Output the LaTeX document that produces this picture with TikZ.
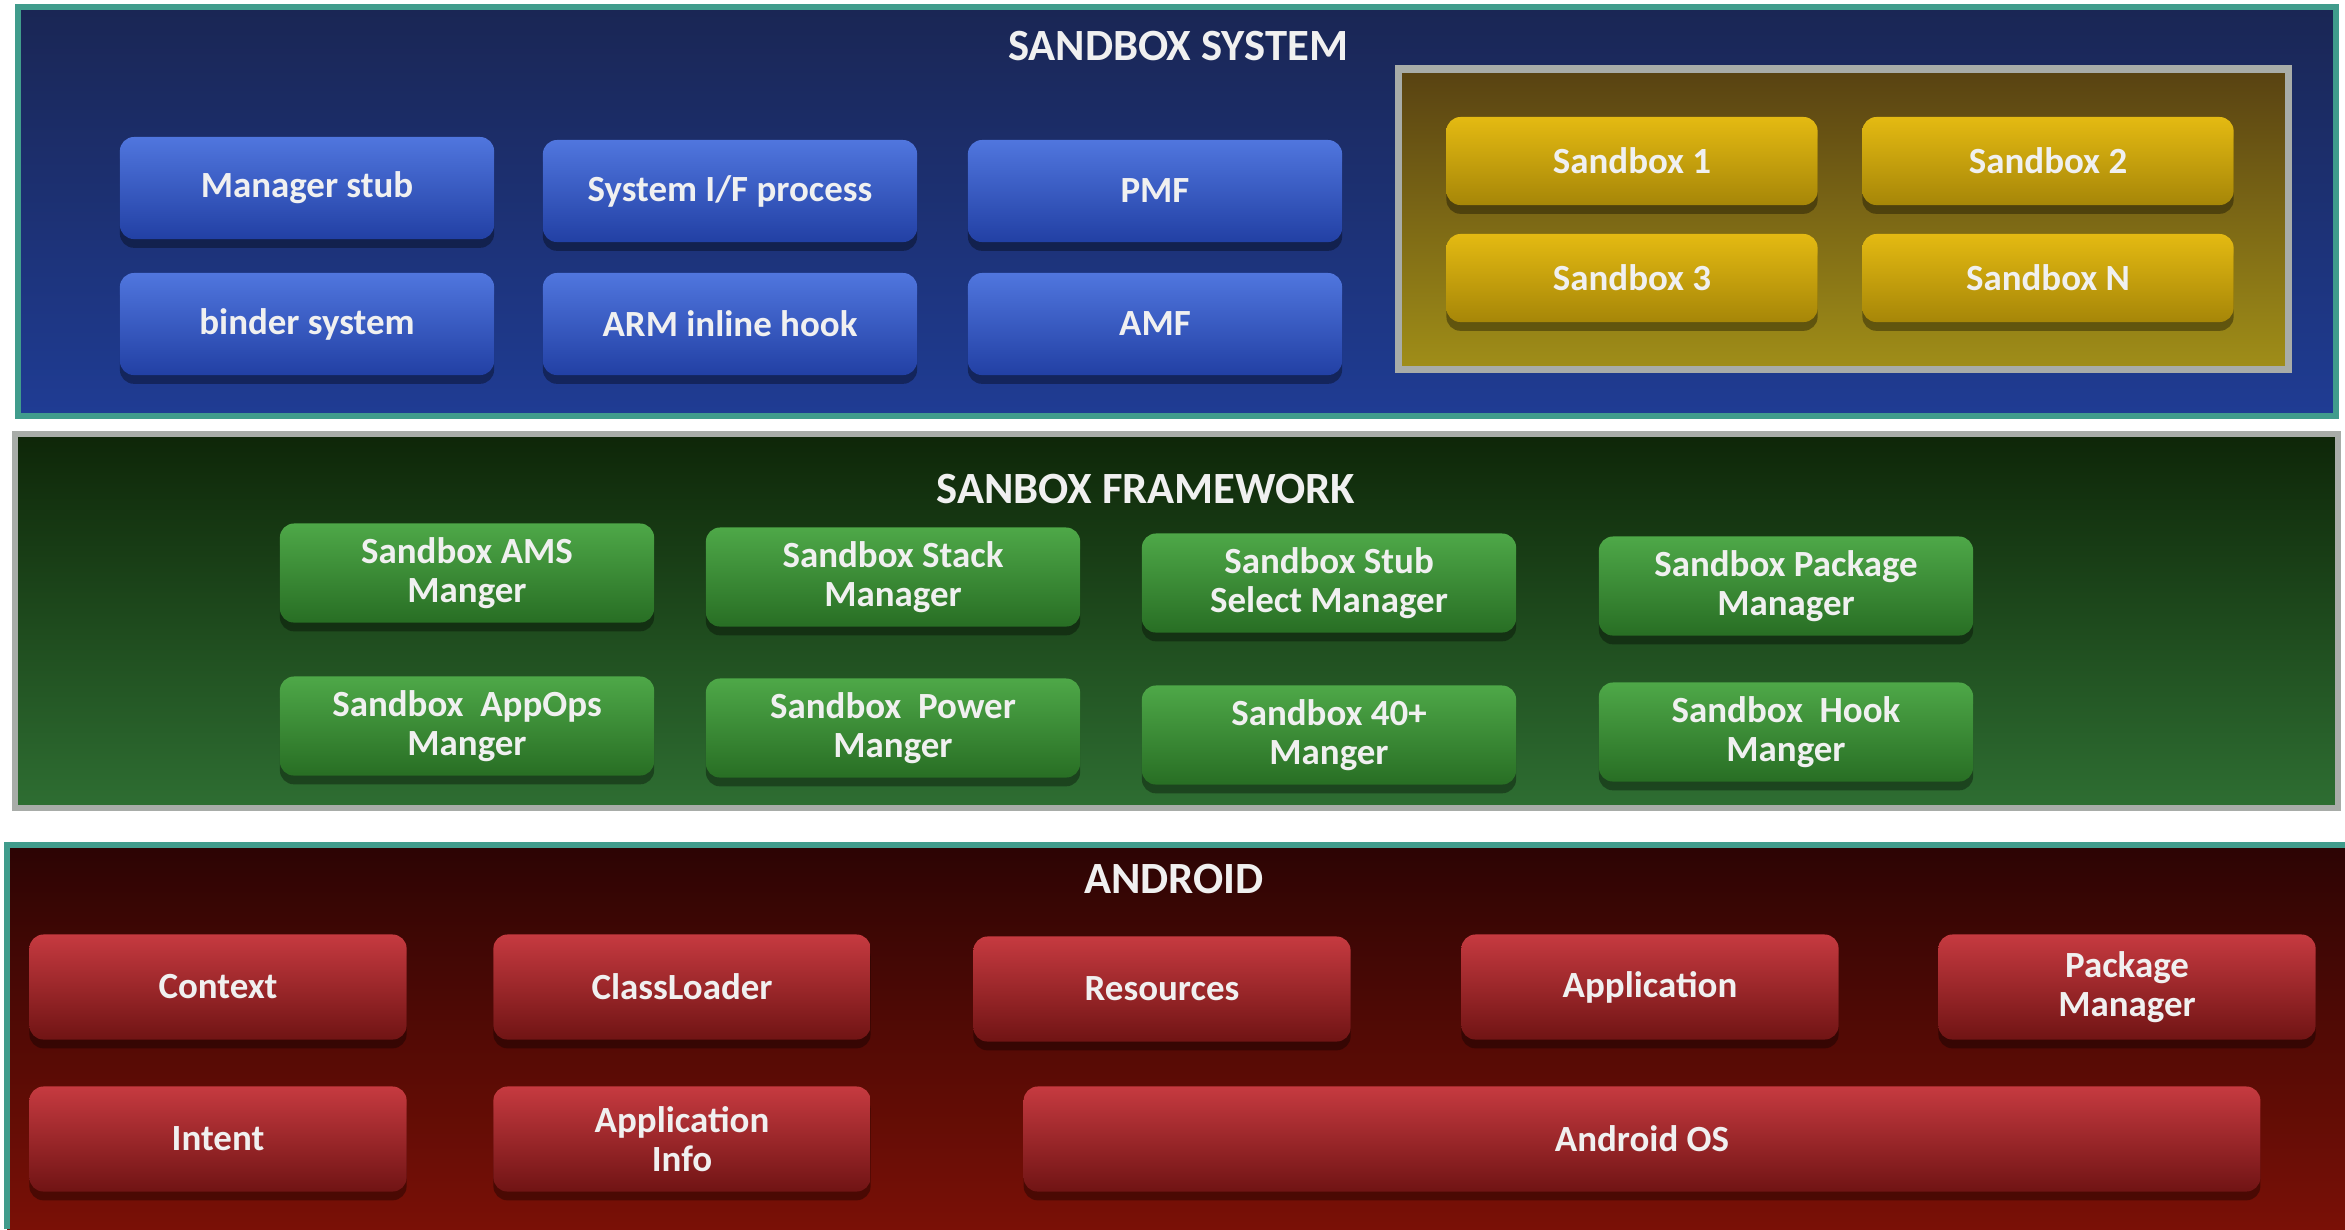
\documentclass[tikz,border=0pt]{standalone}
\usepackage{fontspec}
\setmainfont{Carlito}
\usetikzlibrary{shadows}

\definecolor{SysTop}{RGB}{26,38,84}
\definecolor{SysBot}{RGB}{31,60,148}
\definecolor{FrmTop}{RGB}{14,38,8}
\definecolor{FrmBot}{RGB}{46,110,50}
\definecolor{AndTop}{RGB}{44,4,4}
\definecolor{AndBot}{RGB}{122,16,6}
\definecolor{PoolTop}{RGB}{88,66,18}
\definecolor{PoolBot}{RGB}{160,142,24}
\definecolor{BlueTop}{RGB}{80,118,222}
\definecolor{BlueBot}{RGB}{34,64,164}
\definecolor{GreenTop}{RGB}{78,168,72}
\definecolor{GreenBot}{RGB}{40,110,36}
\definecolor{RedTop}{RGB}{198,58,64}
\definecolor{RedBot}{RGB}{112,20,20}
\definecolor{GoldTop}{RGB}{228,186,18}
\definecolor{GoldBot}{RGB}{166,134,8}
\definecolor{EdgeTeal}{RGB}{64,156,140}
\definecolor{EdgeGray}{RGB}{168,172,168}

\tikzset{
  unit/.style={rectangle, rounded corners=4pt, inner sep=2pt, align=center,
    minimum width=3.74cm, minimum height=1.02cm,
    text=white!94!black, font=\bfseries\fontsize{10.5}{11}\selectfont,
    drop shadow={shadow xshift=0pt, shadow yshift=-2.5pt, fill=black, opacity=0.35}},
  bluebox/.style={unit, top color=BlueTop, bottom color=BlueBot},
  greenbox/.style={unit, top color=GreenTop, bottom color=GreenBot, minimum height=0.99cm},
  redbox/.style={unit, top color=RedTop, bottom color=RedBot, minimum width=3.77cm, minimum height=1.05cm},
  goldbox/.style={unit, top color=GoldTop, bottom color=GoldBot, minimum width=3.71cm, minimum height=0.88cm},
  caption/.style={text=white!94!black, font=\bfseries\fontsize{12.7}{14}\selectfont}
}

\begin{document}
\begin{tikzpicture}[x=0.01cm,y=-0.01cm]
    \useasboundingbox[fill=white] (0,0) rectangle (2345,1229);

    %% Sandbox system layer
    \draw[EdgeTeal,line width=1.5pt,top color=SysTop,bottom color=SysBot] (18,7) rectangle (2336,416);
    \node[caption] (systitle) at (1178,46) {SANDBOX SYSTEM};
    \node[bluebox] (stub) at (307,188) {Manager stub};
    \node[bluebox] (sysif) at (730,191) {System I/F process};
    \node[bluebox] (pmf) at (1155,191) {PMF};
    \node[bluebox] (binder) at (307,324) {binder system};
    \node[bluebox] (hook) at (730,324) {ARM inline hook};
    \node[bluebox] (amf) at (1155,324) {AMF};
    %% Sandbox pool
    \draw[EdgeGray,line width=2pt,top color=PoolTop,bottom color=PoolBot] (1398,69) rectangle (2288,369);
    \node[goldbox] (sbone) at (1632,161) {Sandbox 1};
    \node[goldbox] (sbtwo) at (2048,161) {Sandbox 2};
    \node[goldbox] (sbthree) at (1632,278) {Sandbox 3};
    \node[goldbox] (sbn) at (2048,278) {Sandbox N};

    %% Sandbox framework layer
    \draw[EdgeGray,line width=1.5pt,top color=FrmTop,bottom color=FrmBot] (15,434) rectangle (2338,808);
    \node[caption] (frmtitle) at (1146,489) {SANBOX FRAMEWORK};
    \node[greenbox] (ams) at (467,573) {Sandbox AMS\\Manger};
    \node[greenbox] (stack) at (893,577) {Sandbox Stack\\Manager};
    \node[greenbox] (select) at (1329,583) {Sandbox Stub\\Select Manager};
    \node[greenbox] (pkg) at (1786,586) {Sandbox Package\\Manager};
    \node[greenbox] (appops) at (467,726) {Sandbox\ \ AppOps\\Manger};
    \node[greenbox] (power) at (893,728) {Sandbox\ \ Power\\Manger};
    \node[greenbox] (forty) at (1329,735) {Sandbox 40+\\Manger};
    \node[greenbox] (hookmgr) at (1786,732) {Sandbox\ \ Hook\\Manger};

    %% Android layer
    \fill[top color=AndTop,bottom color=AndBot] (7,845) rectangle (2345,1229);
    \draw[EdgeTeal,line width=1.5pt] (7,1229) -- (7,845) -- (2345,845);
    \node[caption] (andtitle) at (1174,879) {ANDROID};
    \node[redbox] (context) at (218,987) {Context};
    \node[redbox] (loader) at (682,987) {ClassLoader};
    \node[redbox] (res) at (1162,989) {Resources};
    \node[redbox] (app) at (1650,987) {Application};
    \node[redbox] (pkgmgr) at (2127,987) {Package\\Manager};
    \node[redbox] (intent) at (218,1139) {Intent};
    \node[redbox] (appinfo) at (682,1139) {Application\\Info};
    \node[redbox,minimum width=12.36cm] (os) at (1642,1139) {Android OS};
\end{tikzpicture}
\end{document}
